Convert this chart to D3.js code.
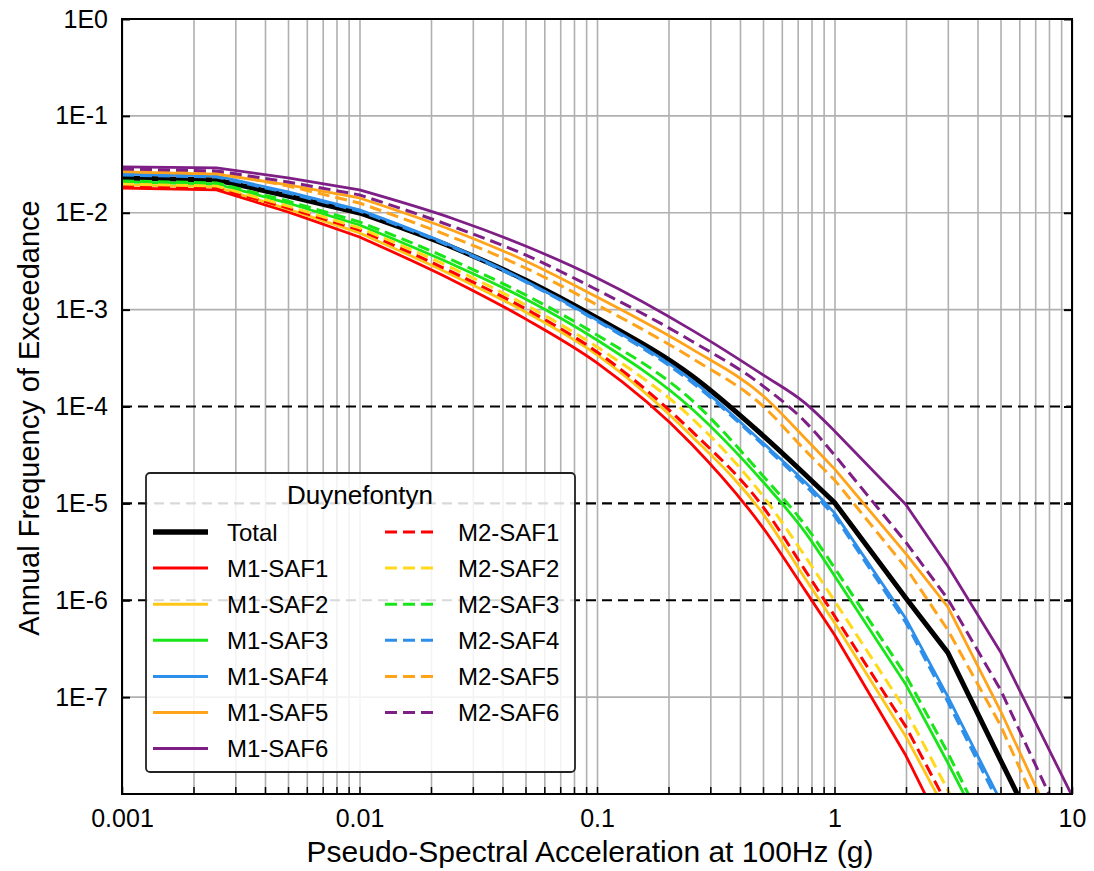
<!DOCTYPE html>
<html>
<head>
<meta charset="utf-8">
<script src="https://cdn.jsdelivr.net/npm/d3@7"></script>
<style>
  html, body { margin: 0; padding: 0; background: #fff; }
  svg { display: block; font-family: "Liberation Sans", Arial, Helvetica, sans-serif; }
</style>
</head>
<body>
<svg id="chart" width="1094" height="871"></svg>
<script>
// Spectral acceleration levels (g)
const accel = [0.001, 0.0025, 0.005, 0.01, 0.025, 0.05, 0.1, 0.25, 0.5, 0.75, 1, 2, 3, 5, 10];

// Annual frequency of exceedance for each branch
const total   = [2.29e-2, 2.18e-2, 1.49e-2, 9.95e-3, 4.33e-3, 2.02e-3, 8.21e-4, 2.09e-4, 5.01e-5, 2.00e-5, 1.02e-5, 1.05e-6, 2.88e-7, 2.24e-8, 7.2e-10];
const m1Saf1  = [1.80e-2, 1.72e-2, 1.02e-2, 5.62e-3, 1.98e-3, 8.02e-4, 2.82e-4, 4.11e-5, 5.59e-6, 1.28e-6, 4.40e-7, 2.48e-8, 3.37e-9, 2.65e-10, 1.1e-11];
const m1Saf2  = [1.94e-2, 1.85e-2, 1.09e-2, 6.19e-3, 2.23e-3, 9.46e-4, 3.41e-4, 4.97e-5, 7.79e-6, 1.70e-6, 5.85e-7, 3.89e-8, 6.10e-9, 5.67e-10, 2.2e-11];
const m1Saf3  = [2.08e-2, 1.98e-2, 1.26e-2, 7.48e-3, 2.89e-3, 1.29e-3, 4.86e-4, 9.55e-5, 1.67e-5, 5.08e-6, 1.79e-6, 1.34e-7, 2.10e-8, 1.86e-9, 6.8e-11];
const m1Saf4  = [2.51e-2, 2.40e-2, 1.64e-2, 1.07e-2, 4.44e-3, 1.98e-3, 7.83e-4, 1.88e-4, 4.21e-5, 1.67e-5, 7.98e-6, 6.43e-7, 1.01e-7, 8.5e-9, 2.9e-10];
const m1Saf5  = [2.64e-2, 2.51e-2, 1.94e-2, 1.42e-2, 6.49e-3, 3.18e-3, 1.35e-3, 3.93e-4, 1.29e-4, 4.74e-5, 2.27e-5, 3.01e-6, 8.55e-7, 7.23e-8, 1.86e-9];
const m1Saf6  = [2.97e-2, 2.90e-2, 2.29e-2, 1.72e-2, 8.63e-3, 4.54e-3, 2.12e-3, 6.18e-4, 2.12e-4, 1.09e-4, 5.60e-5, 9.66e-6, 2.26e-6, 2.93e-7, 9.59e-9];
const m2Saf1  = [1.89e-2, 1.80e-2, 1.12e-2, 6.64e-3, 2.39e-3, 1.02e-3, 3.66e-4, 5.60e-5, 9.20e-6, 2.06e-6, 6.90e-7, 4.93e-8, 7.55e-9, 7.0e-10, 2.8e-11];
const m2Saf2  = [1.98e-2, 1.89e-2, 1.17e-2, 6.97e-3, 2.63e-3, 1.12e-3, 4.12e-4, 7.63e-5, 1.19e-5, 2.87e-6, 9.86e-7, 7.23e-8, 1.10e-8, 1.03e-9, 4.1e-11];
const m2Saf3  = [2.13e-2, 2.03e-2, 1.32e-2, 8.04e-3, 3.18e-3, 1.42e-3, 5.48e-4, 1.17e-4, 1.92e-5, 6.00e-6, 2.16e-6, 1.66e-7, 2.66e-8, 2.14e-9, 7.2e-11];
const m2Saf4  = [2.45e-2, 2.34e-2, 1.60e-2, 1.04e-2, 4.33e-3, 1.93e-3, 7.64e-4, 1.79e-4, 4.02e-5, 1.55e-5, 7.43e-6, 5.85e-7, 8.93e-8, 7.4e-9, 2.5e-10];
const m2Saf5  = [2.77e-2, 2.64e-2, 1.89e-2, 1.26e-2, 5.50e-3, 2.69e-3, 1.12e-3, 3.17e-4, 1.01e-4, 3.56e-5, 1.75e-5, 2.16e-6, 4.94e-7, 5.12e-8, 1.13e-9];
const m2Saf6  = [2.83e-2, 2.70e-2, 2.08e-2, 1.53e-2, 7.13e-3, 3.67e-3, 1.60e-3, 4.75e-4, 1.63e-4, 7.02e-5, 3.16e-5, 3.96e-6, 1.03e-6, 1.19e-7, 3.10e-9];

const seriesNames = ["Total", "M1-SAF1", "M1-SAF2", "M1-SAF3", "M1-SAF4", "M1-SAF5", "M1-SAF6",
                     "M2-SAF1", "M2-SAF2", "M2-SAF3", "M2-SAF4", "M2-SAF5", "M2-SAF6"];
const seriesValues = [total, m1Saf1, m1Saf2, m1Saf3, m1Saf4, m1Saf5, m1Saf6,
                      m2Saf1, m2Saf2, m2Saf3, m2Saf4, m2Saf5, m2Saf6];

const yTickValues = [1, 1e-1, 1e-2, 1e-3, 1e-4, 1e-5, 1e-6, 1e-7];
const yTickLabels = ["1E0", "1E-1", "1E-2", "1E-3", "1E-4", "1E-5", "1E-6", "1E-7"];
const xTickValues = [0.001, 0.01, 0.1, 1, 10];
const xTickLabels = ["0.001", "0.01", "0.1", "1", "10"];
const refLevels = [1e-4, 1e-5, 1e-6];

const legendTitle = "Duynefontyn";
const xTitle = "Pseudo-Spectral Acceleration at 100Hz (g)";
const yTitle = "Annual Frequency of Exceedance";

// Styling per series
const styles = {
  "Total":   { color: "#000000", width: 5,   dash: null },
  "M1-SAF1": { color: "#FF0000", width: 2.8, dash: null },
  "M1-SAF2": { color: "#FFC61A", width: 2.8, dash: null },
  "M1-SAF3": { color: "#19E619", width: 2.8, dash: null },
  "M1-SAF4": { color: "#2E8FEA", width: 2.8, dash: null },
  "M1-SAF5": { color: "#FFA31A", width: 2.8, dash: null },
  "M1-SAF6": { color: "#7E1F86", width: 2.8, dash: null },
  "M2-SAF1": { color: "#FF0000", width: 3,   dash: "12,6" },
  "M2-SAF2": { color: "#FFD91A", width: 3,   dash: "12,6" },
  "M2-SAF3": { color: "#19E619", width: 3,   dash: "12,6" },
  "M2-SAF4": { color: "#2E8FEA", width: 3,   dash: "12,6" },
  "M2-SAF5": { color: "#FFA31A", width: 3,   dash: "12,6" },
  "M2-SAF6": { color: "#7E1F86", width: 3,   dash: "12,6" }
};

const margin = { left: 122, right: 22, top: 19, bottom: 77 };
const W = 1094, H = 871;
const plotW = W - margin.left - margin.right;
const plotH = H - margin.top - margin.bottom;

const svg = d3.select("#chart");
const g = svg.append("g").attr("transform", `translate(${margin.left},${margin.top})`);

const x = d3.scaleLog().domain([0.001, 10]).range([0, plotW]);
const y = d3.scaleLog().domain([1e-8, 1]).range([plotH, 0]);

// Minor positions 1..9 within each decade
const minorX = [];
[0.001, 0.01, 0.1, 1].forEach(dec => { for (let k = 1; k <= 9; k++) minorX.push(dec * k); });
minorX.push(10);

// Vertical grid
g.append("g")
  .attr("transform", `translate(0,${plotH})`)
  .call(d3.axisBottom(x).tickValues(minorX).tickSize(-plotH).tickFormat(""))
  .call(s => s.select(".domain").remove())
  .call(s => s.selectAll("line").attr("stroke", "#b0b0b0").attr("stroke-width", 1.6));

// Horizontal grid at decades
const hGrid = yTickValues.slice(1).filter(d => !refLevels.includes(d));
g.append("g").selectAll("line").data(hGrid).join("line")
  .attr("x1", 0).attr("x2", plotW)
  .attr("y1", d => y(d)).attr("y2", d => y(d))
  .attr("stroke", "#b0b0b0").attr("stroke-width", 1.6);

// Reference exceedance levels
g.append("g").selectAll("line").data(refLevels).join("line")
  .attr("x1", 0).attr("x2", plotW)
  .attr("y1", d => y(d)).attr("y2", d => y(d))
  .attr("stroke", "#000").attr("stroke-width", 2.2)
  .attr("stroke-dasharray", "10,6");

// Curves: straight up to 0.01 g, smooth through 0.01-1 g, straight segments above 1 g
g.append("clipPath").attr("id", "plotClip")
  .append("rect").attr("width", plotW).attr("height", plotH);

const smooth = d3.line().curve(d3.curveMonotoneX);
function curvePath(values) {
  const pts = accel.map((a, j) => [x(a), y(values[j])]);
  const low = pts.filter((p, j) => accel[j] <= 0.01);
  const mid = pts.filter((p, j) => accel[j] >= 0.01 && accel[j] <= 1);
  const high = pts.filter((p, j) => accel[j] > 1);
  let d = "M" + low.map(p => `${p[0]},${p[1]}`).join("L");
  d += smooth(mid).replace(/^M[^C]*/, "");
  high.forEach(p => { d += `L${p[0]},${p[1]}`; });
  return d;
}

const curves = g.append("g").attr("clip-path", "url(#plotClip)");
seriesNames.forEach((name, i) => {
  const st = styles[name];
  curves.append("path")
    .attr("d", curvePath(seriesValues[i]))
    .attr("fill", "none")
    .attr("stroke", st.color)
    .attr("stroke-width", st.width)
    .attr("stroke-dasharray", st.dash)
    .attr("stroke-linejoin", "round");
});

// Axes
const fmtX = d => { const i = xTickValues.indexOf(d); return i >= 0 ? xTickLabels[i] : ""; };
const xAxis = g.append("g")
  .attr("transform", `translate(0,${plotH})`)
  .call(d3.axisBottom(x).tickValues(minorX).tickSizeInner(-7).tickSizeOuter(0).tickPadding(15).tickFormat(fmtX));
xAxis.select(".domain").remove();
xAxis.selectAll("line").attr("stroke", "#000").attr("stroke-width", 1.5);
xAxis.selectAll("text").attr("font-size", 25).attr("fill", "#000").attr("font-family", null);

const fmtY = d => yTickLabels[yTickValues.indexOf(d)];
const yAxis = g.append("g")
  .call(d3.axisLeft(y).tickValues(yTickValues).tickSizeInner(-8).tickSizeOuter(0).tickPadding(14).tickFormat(fmtY));
yAxis.select(".domain").remove();
yAxis.selectAll("line").attr("stroke", "#000").attr("stroke-width", 2);
yAxis.selectAll("text").attr("font-size", 25).attr("fill", "#000").attr("font-family", null);

const yAxisR = g.append("g").attr("transform", `translate(${plotW},0)`)
  .call(d3.axisRight(y).tickValues(yTickValues).tickSizeInner(-8).tickSizeOuter(0).tickFormat(""));
yAxisR.select(".domain").remove();
yAxisR.selectAll("line").attr("stroke", "#000").attr("stroke-width", 2);

// Frame
g.append("rect").attr("width", plotW).attr("height", plotH)
  .attr("fill", "none").attr("stroke", "#000").attr("stroke-width", 2);

// Axis titles
svg.append("text")
  .attr("x", margin.left + plotW / 2 - 7).attr("y", 862)
  .attr("text-anchor", "middle").attr("font-size", 30).text(xTitle);
svg.append("text")
  .attr("transform", `translate(39,${418}) rotate(-90)`)
  .attr("text-anchor", "middle").attr("font-size", 29).text(yTitle);

// Legend
const leg = svg.append("g").attr("transform", "translate(146,473)");
leg.append("rect").attr("width", 429).attr("height", 299).attr("rx", 4)
  .attr("fill", "#fff").attr("fill-opacity", 0.85)
  .attr("stroke", "#222").attr("stroke-width", 1.8);
leg.append("text").attr("x", 214).attr("y", 31)
  .attr("text-anchor", "middle").attr("font-size", 26).text(legendTitle);

const rowStep = 36.1, row0 = 59;
seriesNames.forEach((name, i) => {
  const st = styles[name];
  const col = i < 7 ? 0 : 1;
  const row = col === 0 ? i : i - 7;
  const cy = row0 + row * rowStep;
  const lx0 = col === 0 ? 7 : 239, lx1 = col === 0 ? 62 : 288;
  const tx = col === 0 ? 81 : 312;
  leg.append("line")
    .attr("x1", lx0).attr("x2", lx1).attr("y1", cy).attr("y2", cy)
    .attr("stroke", st.color)
    .attr("stroke-width", name === "Total" ? 5.5 : 3)
    .attr("stroke-dasharray", st.dash);
  leg.append("text").attr("x", tx).attr("y", cy + 8.6)
    .attr("font-size", 24).text(name);
});
</script>
</body>
</html>
